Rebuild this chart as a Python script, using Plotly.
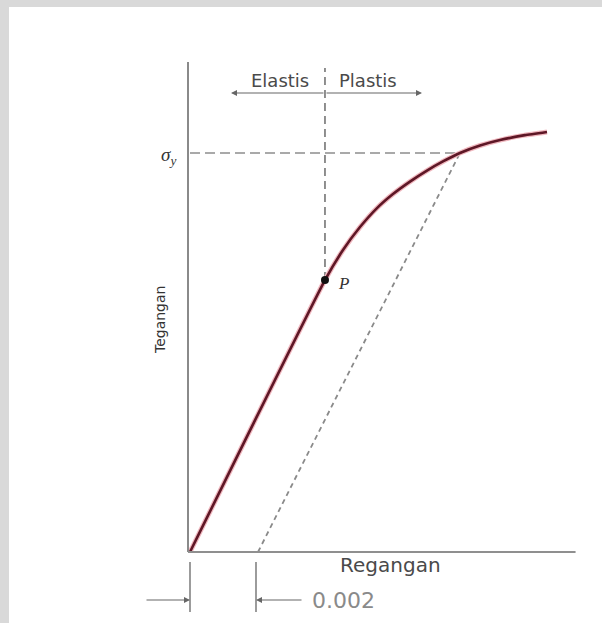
import plotly.graph_objects as go

# ---- data (strain, stress) ----
strain = [0.0, 0.00397, 0.0045, 0.0050, 0.0055, 0.00597, 0.00647, 0.00697, 0.00744, 0.00794, 0.00853, 0.00912, 0.00985, 0.0105]
stress = [0.0, 170.4, 189.2, 203.6, 215.5, 224.3, 232.1, 239.0, 244.7, 250.0, 254.7, 258.1, 261.2, 263.2]
sigma_y = 250.0
strain_at_yield = 0.00794
offset_strain = 0.002
p_strain, p_stress = 0.00397, 170.4
x_axis_end = 0.01134
labels = {"elastic": "Elastis", "plastic": "Plastis", "x": "Regangan", "y": "Tegangan", "offset": "0.002"}

# pixel-calibrated ranges (190 px -> strain 0, 34000 px per unit strain; 552 px -> stress 0, 1.596 px per unit)
def sx(px):
    return (px - 190) / 34000.0

def sy(py):
    return (552 - py) / 1.596

xr = [sx(0), sx(602)]
yr = [sy(623), sy(0)]

fig = go.Figure()

# white panel on grey page
fig.add_shape(type="rect", xref="paper", yref="paper", x0=9/602, x1=1.0, y0=0, y1=(623-7)/623,
              fillcolor="white", line_width=0, layer="below")

# axes
fig.add_shape(type="line", x0=sx(188), x1=sx(188), y0=0, y1=sy(62), line=dict(color="#8a8a8a", width=2))
fig.add_shape(type="line", x0=sx(188), x1=x_axis_end, y0=0, y1=0, line=dict(color="#8f8f8f", width=2))

# sigma_y dashed
fig.add_trace(go.Scatter(x=[0, strain_at_yield], y=[sigma_y, sigma_y], mode="lines",
                         line=dict(color="#555", width=1.2, dash="10px,5px"), hoverinfo="skip", showlegend=False))
# vertical dashed at P
fig.add_trace(go.Scatter(x=[p_strain, p_strain], y=[p_stress, sy(68)], mode="lines",
                         line=dict(color="#555", width=1.3, dash="8px,5px"), hoverinfo="skip", showlegend=False))
# offset line
fig.add_trace(go.Scatter(x=[offset_strain, strain_at_yield], y=[0, sigma_y], mode="lines",
                         line=dict(color="#8a8a8a", width=1.8, dash="5px,4px"), hoverinfo="skip", showlegend=False))
# curve (glow + line)
fig.add_trace(go.Scatter(x=strain, y=stress, mode="lines", line=dict(color="#f0b8bf", width=5, shape="spline", smoothing=0.4),
                         hoverinfo="skip", showlegend=False))
fig.add_trace(go.Scatter(x=strain, y=stress, mode="lines", line=dict(color="#5e1726", width=2.6, shape="spline", smoothing=0.4),
                         hoverinfo="skip", showlegend=False))
# point P
fig.add_trace(go.Scatter(x=[p_strain], y=[p_stress], mode="markers", marker=dict(color="#111", size=8),
                         hoverinfo="skip", showlegend=False))

font = "DejaVu Sans, sans-serif"
ann = []
ann.append(dict(x=sx(168), y=sy(156), text="<i>σ<sub>y</sub></i>", showarrow=False,
                font=dict(family="Liberation Serif, serif", size=19, color="#333")))
ann.append(dict(x=sx(336), y=sy(283), text="<i>P</i>", showarrow=False, xanchor="left",
                font=dict(family="Liberation Serif, serif", size=17, color="#333")))
ann.append(dict(x=sx(280), y=sy(80), text=labels["elastic"], showarrow=False,
                font=dict(family=font, size=18, color="#4a4a4a")))
ann.append(dict(x=sx(368), y=sy(80), text=labels["plastic"], showarrow=False,
                font=dict(family=font, size=18, color="#4a4a4a")))
for xe in [sx(231), sx(422)]:
    ann.append(dict(x=xe, y=sy(93), ax=p_strain, ay=sy(93), axref="x", ayref="y", text="",
                    showarrow=True, arrowhead=2, arrowsize=1, arrowwidth=1.2, arrowcolor="#666", standoff=0))
ann.append(dict(x=sx(160), y=sy(320), text=labels["y"], textangle=-90, showarrow=False,
                font=dict(family=font, size=14, color="#333")))
ann.append(dict(x=sx(390), y=sy(565), text=labels["x"], showarrow=False,
                font=dict(family=font, size=20, color="#4a4a4a")))
ann.append(dict(x=sx(310), y=sy(600), text=labels["offset"], showarrow=False, xanchor="left",
                font=dict(family=font, size=22, color="#8a8a8a")))
ann.append(dict(x=0, y=sy(600), ax=sx(145), ay=sy(600), axref="x", ayref="y", text="",
                showarrow=True, arrowhead=2, arrowsize=1, arrowwidth=1.2, arrowcolor="#666", standoff=0))
ann.append(dict(x=sx(256), y=sy(600), ax=sx(303), ay=sy(600), axref="x", ayref="y", text="",
                showarrow=True, arrowhead=2, arrowsize=1, arrowwidth=1.2, arrowcolor="#666", standoff=0))

# dimension ticks
for xv in [sx(190), sx(256)]:
    fig.add_shape(type="line", x0=xv, x1=xv, y0=sy(562), y1=sy(612), line=dict(color="#666", width=1.3))

fig.update_layout(
    width=602, height=623, autosize=False,
    margin=dict(l=0, r=0, t=0, b=0),
    paper_bgcolor="#d9d9d9", plot_bgcolor="rgba(0,0,0,0)",
    xaxis=dict(range=xr, visible=False, fixedrange=True),
    yaxis=dict(range=yr, visible=False, fixedrange=True),
    annotations=ann, showlegend=False,
)
fig.write_html("out.html", config={"displayModeBar": False},
               post_script="document.body.style.margin='0';document.body.style.background='#d9d9d9';")
